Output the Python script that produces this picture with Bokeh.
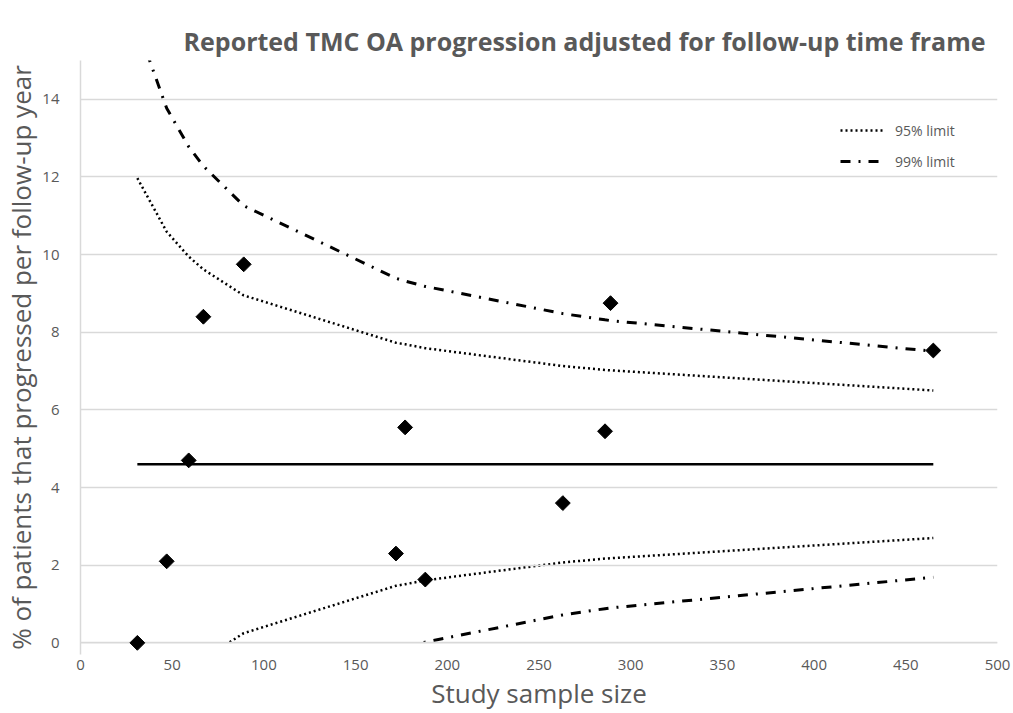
import math
from bokeh.plotting import figure
from bokeh.models import Range1d, FixedTicker, Legend, LegendItem, Span, LinearAxis
from bokeh.embed import file_html
from bokeh.resources import INLINE

# ---- data ----
sample_size = [31, 47, 59, 67, 89, 172, 177, 188, 263, 286, 289, 465]
progression = [0.0, 2.1, 4.7, 8.4, 9.75, 2.3, 5.55, 1.63, 3.6, 5.45, 8.75, 7.53]
mean_rate = 4.6
upper95 = [11.97, 10.59, 9.95, 9.62, 8.95, 7.73, 7.69, 7.59, 7.13, 7.03, 7.02, 6.50]
lower95 = [-2.77, -1.39, -0.75, -0.42, 0.25, 1.47, 1.51, 1.61, 2.07, 2.17, 2.18, 2.70]
upper99 = [15.88, 13.77, 12.78, 12.28, 11.26, 9.39, 9.32, 9.18, 8.48, 8.32, 8.30, 7.51]
lower99 = [-6.69, -4.57, -3.58, -3.08, -2.06, -0.19, -0.12, 0.02, 0.72, 0.88, 0.90, 1.69]
x_ticks = [0, 50, 100, 150, 200, 250, 300, 350, 400, 450, 500]
y_ticks = [0, 2, 4, 6, 8, 10, 12, 14]
title_text = "Reported TMC OA progression adjusted for follow-up time frame"
x_label = "Study sample size"
y_label = "% of patients that progressed per follow-up year"

TXT = "#595959"
GRID = "#d9d9d9"
FONT = "Open Sans"

p = figure(frame_width=917, frame_height=594,
           x_range=Range1d(0, 500), y_range=Range1d(-0.3, 15),
           output_backend="svg", toolbar_location=None,
           min_border_left=80, min_border_right=16, min_border_top=60, min_border_bottom=59)
p.outline_line_color = None
p.background_fill_color = "white"

xa = p.below[0]
ya = p.left[0]

# empty spacer axis above the frame (no ticks, no labels), so the title sits near the top edge
spacer = LinearAxis(ticker=FixedTicker(ticks=[]), axis_line_color=None,
                    major_tick_line_color=None, minor_tick_line_color=None,
                    major_tick_out=24, minor_tick_out=0, major_label_standoff=0)
p.add_layout(spacer, "above")

p.title.text = title_text
p.title.text_font = FONT
p.title.text_font_style = "bold"
p.title.text_font_size = "25px"
p.title.text_color = TXT
p.title.align = "right"
p.title.offset = 12
p.title.vertical_align = "top"
p.title.standoff = 2

# axes
xa.ticker = FixedTicker(ticks=x_ticks)
ya.ticker = FixedTicker(ticks=y_ticks)
for ax in (xa, ya):
    ax.major_tick_line_color = None
    ax.minor_tick_line_color = None
    ax.major_label_text_font = FONT
    ax.major_label_text_font_size = "15px"
    ax.major_label_text_color = TXT
    ax.axis_label_text_font = FONT
    ax.axis_label_text_font_style = "normal"
    ax.axis_label_text_font_size = "26px"
    ax.axis_label_text_color = TXT
xa.axis_label = x_label
ya.axis_label = y_label
# white x-axis line hides the clipped ends of the lower limit lines at the frame edge
xa.axis_line_color = "white"
xa.axis_line_width = 5
ya.axis_line_color = GRID
ya.axis_line_width = 1.5
xa.major_label_standoff = -1
ya.major_label_standoff = 15
xa.axis_label_standoff = 2
ya.axis_label_standoff = 0

p.xgrid.grid_line_color = None
p.ygrid.grid_line_color = GRID
p.ygrid.grid_line_width = 1.5

# funnel lines
l95 = p.line(sample_size, upper95, line_color="black", line_width=2.5, line_dash="2 3")
p.line(sample_size, lower95, line_color="black", line_width=2.5, line_dash="2 3", level="underlay")
l99 = p.line(sample_size, upper99, line_color="black", line_width=3, line_dash="10 8 2 8")
p.line(sample_size, lower99, line_color="black", line_width=3, line_dash="10 8 2 8", level="underlay")

# mean line
p.line([sample_size[0], sample_size[-1]], [mean_rate, mean_rate], line_color="black", line_width=2.5)

# white mask below zero (values below the axis are hidden, as in the original)
p.quad(left=-100, right=600, bottom=-100, top=0, fill_color="white", line_color=None)
p.add_layout(Span(location=0, dimension="width", line_color=GRID, line_width=1.5))

# study points
p.scatter(sample_size, progression, marker="square", angle=math.pi / 4, size=10.5,
          fill_color="black", line_color="black", level="overlay")

legend = Legend(items=[LegendItem(label="95% limit", renderers=[l95]),
                       LegendItem(label="99% limit", renderers=[l99])],
                location=(760, 483), orientation="vertical")
legend.border_line_color = None
legend.background_fill_alpha = 0
legend.label_text_font = FONT
legend.label_text_font_size = "14px"
legend.label_text_color = TXT
legend.glyph_width = 45
legend.glyph_height = 20
legend.label_height = 20
legend.spacing = 11
legend.label_standoff = 10
legend.padding = 10
p.add_layout(legend)

open("out.html", "w").write(file_html(p, INLINE))
